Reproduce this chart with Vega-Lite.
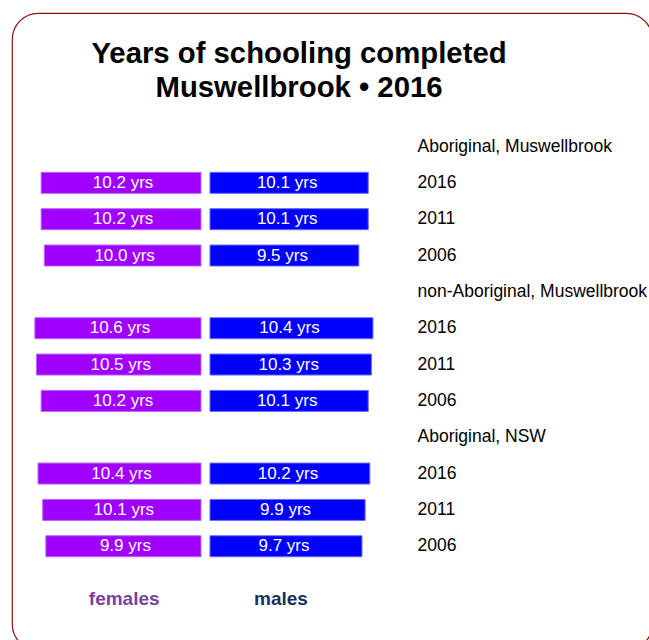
{
  "$schema": "https://vega.github.io/schema/vega-lite/v6.json",
  "width": 640,
  "height": 637,
  "autosize": {"type": "none"},
  "padding": {"left": 12, "top": 13, "right": 0, "bottom": 0},
  "background": "white",
  "config": {
    "view": {"stroke": "#8b1010", "strokeWidth": 1.2, "cornerRadius": 26, "fill": "white"},
    "font": "Liberation Sans"
  },
  "title": {
    "text": ["Years of schooling completed", "Muswellbrook • 2016"],
    "anchor": "middle",
    "frame": "group",
    "dx": -33,
    "offset": -90,
    "fontSize": 29.3,
    "fontWeight": "bold",
    "font": "Liberation Sans",
    "color": "black",
    "lineHeight": 34
  },
  "data": {
    "values": [
      {"row": "Aboriginal, Muswellbrook|2016", "group": "Aboriginal, Muswellbrook", "year": "2016", "female": 10.2, "male": 10.1},
      {"row": "Aboriginal, Muswellbrook|2011", "group": "Aboriginal, Muswellbrook", "year": "2011", "female": 10.2, "male": 10.1},
      {"row": "Aboriginal, Muswellbrook|2006", "group": "Aboriginal, Muswellbrook", "year": "2006", "female": 10.0, "male": 9.5},
      {"row": "non-Aboriginal, Muswellbrook|2016", "group": "non-Aboriginal, Muswellbrook", "year": "2016", "female": 10.6, "male": 10.4},
      {"row": "non-Aboriginal, Muswellbrook|2011", "group": "non-Aboriginal, Muswellbrook", "year": "2011", "female": 10.5, "male": 10.3},
      {"row": "non-Aboriginal, Muswellbrook|2006", "group": "non-Aboriginal, Muswellbrook", "year": "2006", "female": 10.2, "male": 10.1},
      {"row": "Aboriginal, NSW|2016", "group": "Aboriginal, NSW", "year": "2016", "female": 10.4, "male": 10.2},
      {"row": "Aboriginal, NSW|2011", "group": "Aboriginal, NSW", "year": "2011", "female": 10.1, "male": 9.9},
      {"row": "Aboriginal, NSW|2006", "group": "Aboriginal, NSW", "year": "2006", "female": 9.9, "male": 9.7}
    ]
  },
  "resolve": {"scale": {"x": "independent"}},
  "layer": [
    {
      "mark": {"type": "bar", "color": "#9f00ff", "stroke": "#b866ff", "strokeWidth": 1},
      "encoding": {
        "x": {"field": "female", "type": "quantitative", "scale": {"domain": [-28.78, 12.06], "reverse": true, "nice": false, "zero": false}, "axis": null},
        "x2": {"datum": 0},
        "y": {
          "field": "row",
          "type": "nominal",
          "scale": {
            "domain": [
              "Aboriginal, Muswellbrook",
              "Aboriginal, Muswellbrook|2016",
              "Aboriginal, Muswellbrook|2011",
              "Aboriginal, Muswellbrook|2006",
              "non-Aboriginal, Muswellbrook",
              "non-Aboriginal, Muswellbrook|2016",
              "non-Aboriginal, Muswellbrook|2011",
              "non-Aboriginal, Muswellbrook|2006",
              "Aboriginal, NSW",
              "Aboriginal, NSW|2016",
              "Aboriginal, NSW|2011",
              "Aboriginal, NSW|2006",
              "legend"
            ],
            "range": [123, 580.1],
            "paddingInner": 0.422,
            "paddingOuter": 0,
            "round": false
          },
          "axis": {
            "orient": "right",
            "offset": -235,
            "labelPadding": 0,
            "ticks": false,
            "domain": false,
            "grid": false,
            "title": null,
            "labelAlign": "left",
            "labelBaseline": "middle",
            "labelFontSize": 17.5,
            "labelFont": "Liberation Sans",
            "labelColor": "black",
            "labelLimit": 400,
            "labelExpr": "indexof(datum.value, '|') >= 0 ? split(datum.value, '|')[1] : (datum.value == 'legend' ? '' : datum.value)"
          }
        }
      }
    },
    {
      "mark": {"type": "bar", "color": "#0000ff", "stroke": "#6a6aff", "strokeWidth": 1},
      "encoding": {
        "x": {"field": "male", "type": "quantitative", "scale": {"domain": [-12.636, 28.21], "nice": false, "zero": false}, "axis": null},
        "x2": {"datum": 0},
        "y": {"field": "row", "type": "nominal"}
      }
    },
    {
      "mark": {"type": "text", "color": "white", "fontSize": 17, "font": "Liberation Sans", "dx": 2, "align": "center", "baseline": "middle", "text": {"expr": "format(datum.female, '.1f') + ' yrs'"}},
      "encoding": {
        "x": {"field": "female", "type": "quantitative", "scale": {"domain": [-57.56, 24.12], "reverse": true, "nice": false, "zero": false}, "axis": null},
        "y": {"field": "row", "type": "nominal"}
      }
    },
    {
      "mark": {"type": "text", "color": "white", "fontSize": 17, "font": "Liberation Sans", "dx": -2, "align": "center", "baseline": "middle", "text": {"expr": "format(datum.male, '.1f') + ' yrs'"}},
      "encoding": {
        "x": {"field": "male", "type": "quantitative", "scale": {"domain": [-25.27, 56.41], "nice": false, "zero": false}, "axis": null},
        "y": {"field": "row", "type": "nominal"}
      }
    },
    {
      "data": {"values": [{"label": "females"}]},
      "mark": {"type": "text", "color": "#7b3fa0", "fontSize": 19, "fontWeight": "bold", "font": "Liberation Sans", "align": "center", "baseline": "middle", "dy": 16.5},
      "encoding": {
        "x": {"datum": 9.8, "type": "quantitative", "scale": {"domain": [-57.56, 24.12], "reverse": true, "nice": false, "zero": false}, "axis": null},
        "y": {"datum": "legend", "type": "nominal"},
        "text": {"field": "label"}
      }
    },
    {
      "data": {"values": [{"label": "males"}]},
      "mark": {"type": "text", "color": "#1b2f5e", "fontSize": 19, "fontWeight": "bold", "font": "Liberation Sans", "align": "center", "baseline": "middle", "dy": 16.5},
      "encoding": {
        "x": {"datum": 9.06, "type": "quantitative", "scale": {"domain": [-25.27, 56.41], "nice": false, "zero": false}, "axis": null},
        "y": {"datum": "legend", "type": "nominal"},
        "text": {"field": "label"}
      }
    }
  ]
}
